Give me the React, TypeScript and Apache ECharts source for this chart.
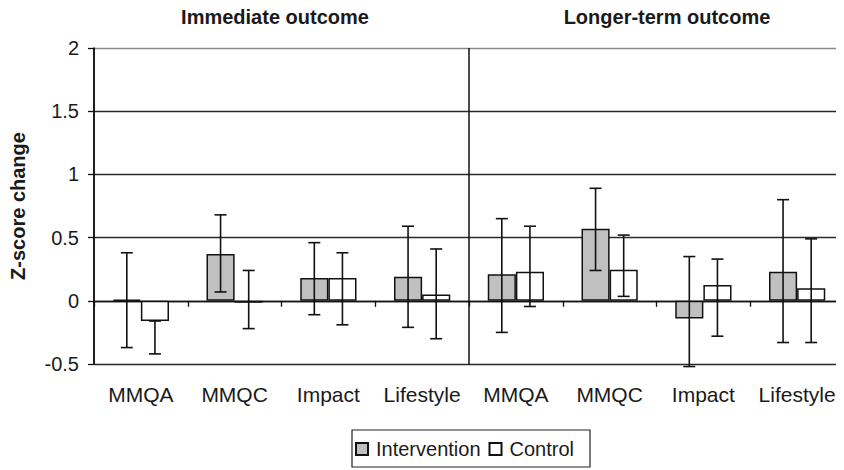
import React, { useEffect, useRef } from "react";
import * as echarts from "echarts";

const categories = ["MMQA", "MMQC", "Impact", "Lifestyle", "MMQA", "MMQC", "Impact", "Lifestyle"];
const panelTitles = ["Immediate outcome", "Longer-term outcome"];
const seriesNames = ["Intervention", "Control"];
const interventionValues = [0.01, 0.37, 0.18, 0.19, 0.21, 0.57, -0.14, 0.23];
const interventionLow = [-0.37, 0.07, -0.11, -0.21, -0.25, 0.24, -0.52, -0.33];
const interventionHigh = [0.38, 0.68, 0.46, 0.59, 0.65, 0.89, 0.35, 0.8];
const controlValues = [-0.16, -0.015, 0.18, 0.05, 0.23, 0.245, 0.125, 0.1];
const controlLow = [-0.42, -0.22, -0.19, -0.3, -0.045, 0.035, -0.28, -0.33];
const controlHigh = [-0.16, 0.24, 0.38, 0.41, 0.59, 0.52, 0.33, 0.49];
const yMin = -0.5;
const yMax = 2;
const yStep = 0.5;
const panelBounds = [0, 1, 2];

const FONT = "Liberation Sans, Arial, sans-serif";
const INK = "#1a1a1a";

function errorSeries(name: string, low: number[], high: number[], offset: number) {
  return {
    type: "custom",
    name: name + " error",
    z: 5,
    silent: true,
    data: low.map((l, i) => [i, l, high[i]]),
    encode: { x: 0, y: [1, 2] },
    renderItem: (params: any, api: any) => {
      const band = api.size([1, 0])[0];
      const lowPt = api.coord([api.value(0), api.value(1)]);
      const highPt = api.coord([api.value(0), api.value(2)]);
      const x = lowPt[0] + offset * band;
      const cap = 6;
      const style = { stroke: "#111", lineWidth: 1.6 };
      return {
        type: "group",
        children: [
          { type: "line", shape: { x1: x, y1: lowPt[1], x2: x, y2: highPt[1] }, style },
          { type: "line", shape: { x1: x - cap, y1: lowPt[1], x2: x + cap, y2: lowPt[1] }, style },
          { type: "line", shape: { x1: x - cap, y1: highPt[1], x2: x + cap, y2: highPt[1] }, style },
        ],
      };
    },
  };
}

export default function App() {
  const ref = useRef<HTMLDivElement>(null);
  useEffect(() => {
    if (!ref.current) return;
    const chart = echarts.init(ref.current, undefined, { renderer: "svg" });
    chart.setOption({
      animation: false,
      backgroundColor: "#ffffff",
      textStyle: { fontFamily: FONT, color: INK },
      graphic: [
        {
          type: "text",
          x: 275,
          y: 17,
          style: { text: panelTitles[0], textAlign: "center", textVerticalAlign: "middle", font: "bold 20px " + FONT, fill: INK },
        },
        {
          type: "text",
          x: 667,
          y: 17,
          style: { text: panelTitles[1], textAlign: "center", textVerticalAlign: "middle", font: "bold 20px " + FONT, fill: INK },
        },
      ],
      grid: { left: 94, top: 48, width: 752, height: 316, containLabel: false },
      legend: {
        data: seriesNames,
        left: 352,
        top: 430,
        orient: "horizontal",
        padding: [8, 16, 7, 3],
        itemGap: 8,
        itemWidth: 18,
        itemHeight: 12,
        borderColor: "#222",
        borderWidth: 1.2,
        icon: "path://M0,0 L10,0 L10,10 L0,10 Z",
        textStyle: { fontSize: 20, lineHeight: 22, fontFamily: FONT, color: INK },
      },
      xAxis: [
        {
          type: "category",
          data: categories,
          axisLine: { onZero: true, lineStyle: { color: "#111", width: 1.3 } },
          axisTick: { show: true, length: 6, alignWithLabel: false, lineStyle: { color: "#111", width: 1.3 } },
          axisLabel: { margin: 20, fontSize: 21, fontFamily: FONT, color: INK, interval: 0 },
          splitLine: { show: false },
        },
        {
          type: "value",
          min: panelBounds[0],
          max: panelBounds[panelBounds.length - 1],
          interval: 1,
          position: "top",
          axisLine: { show: false },
          axisTick: { show: false },
          axisLabel: { show: false },
          splitLine: { show: true, lineStyle: { color: "#111", width: 1.5 } },
        },
      ],
      yAxis: {
        type: "value",
        min: yMin,
        max: yMax,
        interval: yStep,
        name: "Z-score change",
        nameLocation: "middle",
        nameRotate: 90,
        nameGap: 66,
        nameTextStyle: { fontSize: 20, fontWeight: "bold", fontFamily: FONT, color: INK },
        axisLine: { show: true, lineStyle: { color: "#111", width: 1.5 } },
        axisTick: { show: true, length: 6, lineStyle: { color: "#111", width: 1.3 } },
        axisLabel: { margin: 15, fontSize: 20, fontFamily: FONT, color: INK },
        splitLine: {
          show: true,
          lineStyle: { color: ["#2a2a2a", "#2a2a2a", "#2a2a2a", "#2a2a2a", "#2a2a2a", "#8a8a8a"], width: 1.4 },
        },
      },
      series: [
        {
          type: "bar",
          name: seriesNames[0],
          data: interventionValues,
          barWidth: "30%",
          barGap: "0%",
          itemStyle: { color: "#c0c0c0", borderColor: "#111", borderWidth: 1.5 },
        },
        {
          type: "bar",
          name: seriesNames[1],
          data: controlValues,
          barWidth: "30%",
          barGap: "0%",
          itemStyle: { color: "#ffffff", borderColor: "#111", borderWidth: 1.5 },
        },
        errorSeries(seriesNames[0], interventionLow, interventionHigh, -0.15),
        errorSeries(seriesNames[1], controlLow, controlHigh, 0.15),
      ],
    });
    return () => chart.dispose();
  }, []);
  return <div ref={ref} style={{ width: 844, height: 468, margin: "-8px -8px 0 -8px" }} />;
}
